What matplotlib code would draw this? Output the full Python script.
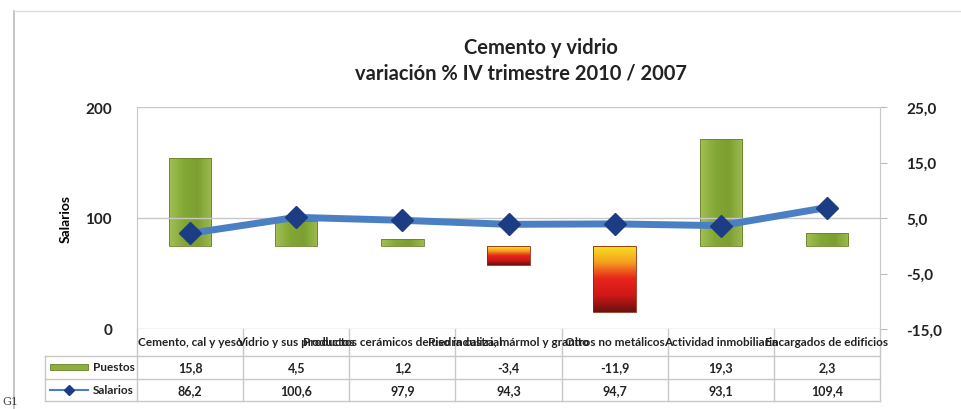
import matplotlib
matplotlib.use("Agg")
import matplotlib.pyplot as plt
import numpy as np
from matplotlib.lines import Line2D
from matplotlib.patches import Rectangle
from matplotlib.colors import LinearSegmentedColormap

categories = ["Cemento, cal y yeso", "Vidrio y sus productos",
              "Productos cerámicos de uso industrial",
              "Piedra caliza, mármol y granito", "Otros no metálicos",
              "Actividad inmobiliaria", "Encargados de edificios"]
puestos = [15.8, 4.5, 1.2, -3.4, -11.9, 19.3, 2.3]
salarios = [86.2, 100.6, 97.9, 94.3, 94.7, 93.1, 109.4]
right_ticks = [25, 15, 5, -5, -15]
left_ticks = [0, 100, 200]

W, H = 962, 410
fig = plt.figure(figsize=(W / 100, H / 100), dpi=100)
plt.rcParams['font.family'] = ['Lato', 'DejaVu Sans']

def fx(px):
    return px / W

def fy(py):
    return 1 - py / H

L, R, T, B = 137, 880, 108, 330
ax = fig.add_axes([fx(L), fy(B), fx(R) - fx(L), fy(T) - fy(B)])
ax2 = ax.twinx()

ax.set_xlim(-0.5, 6.5)
ax.set_ylim(-15, 25)
ax.set_xticks([])
for s in ['top', 'bottom', 'left']:
    ax.spines[s].set_visible(False)
ax.spines['right'].set_color('#c8c8c8')

x = np.arange(len(categories))
bw = 0.4
green_cmap = LinearSegmentedColormap.from_list('g', ['#a2c055', '#84a836', '#7c9f30', '#9cbb50'])
warm_cmap = LinearSegmentedColormap.from_list('w', ['#6e1010', '#d01818', '#e8241c', '#f5a020', '#f5e41e'])
bars = ax.bar(x, puestos, width=bw, color='none', edgecolor='none', zorder=2)
for b, v in zip(bars, puestos):
    x0, y0 = b.get_x(), b.get_y()
    w, h = b.get_width(), b.get_height()
    ylo, yhi = min(y0, y0 + h), max(y0, y0 + h)
    if v >= 0:
        grad = np.linspace(0, 1, 64).reshape(1, -1)
        im = ax.imshow(grad, cmap=green_cmap, extent=[x0, x0 + w, ylo, yhi],
                       aspect='auto', zorder=2, origin='lower')
    else:
        grad = np.linspace(0, 1, 64).reshape(-1, 1)
        im = ax.imshow(grad, cmap=warm_cmap, extent=[x0, x0 + w, ylo, yhi],
                       aspect='auto', zorder=2, origin='lower')
    im.set_clip_path(b)
    ax.add_patch(Rectangle((x0, ylo), w, yhi - ylo, fill=False,
                           edgecolor='#6b7f2a' if v >= 0 else '#8a2a10',
                           linewidth=0.6, zorder=3))
ax.set_ylim(-15, 25)
ax.set_xlim(-0.5, 6.5)
ax.yaxis.tick_right()
ax.set_yticks(right_ticks)
ax.set_yticklabels([f"{v:.1f}".replace(".", ",") for v in right_ticks],
                   fontsize=11, fontweight='bold', color='#222222')
ax.tick_params(axis='y', which='both', left=False, labelleft=False,
               right=True, labelright=True, direction='out', length=5,
               color='#bbbbbb', pad=14)

ax2.set_ylim(0, 200)
ax2.yaxis.tick_left()
ax2.yaxis.set_label_position('left')
ax2.set_yticks(left_ticks)
ax2.set_yticklabels([str(v) for v in left_ticks], fontsize=11,
                    fontweight='bold', color='#222222')
ax2.tick_params(axis='y', right=False, labelright=False, left=True,
                labelleft=True, direction='out', length=0, pad=18)
for s in ['top', 'bottom', 'right']:
    ax2.spines[s].set_visible(False)
ax2.spines['left'].set_color('#c8c8c8')
for v in left_ticks:
    ax2.axhline(v, color='#c8c8c8', linewidth=1, zorder=0)
ax2.plot(x, salarios, color='#4a7fc4', linewidth=5, marker='D',
         markersize=11, markerfacecolor='#1c3c84', markeredgecolor='#1c3c84',
         zorder=5)
ax2.set_ylabel('Salarios', fontsize=10, fontweight='bold', labelpad=10)
ax2.set_xlim(-0.5, 6.5)

fig.text(fx(541), fy(48), 'Cemento y vidrio', ha='center', va='center',
         fontsize=14.5, fontweight='bold', color='#222222')
fig.text(fx(521), fy(74), 'variación % IV trimestre 2010 / 2007', ha='center',
         va='center', fontsize=14.5, fontweight='bold', color='#222222')

colw = (R - L) / len(categories)
for i, c in enumerate(categories):
    fig.text(fx(L + colw * (i + 0.5)), fy(343), c, ha='center', va='center',
             fontsize=8.5, fontweight='bold', color='#222222')

gc = '#c8c8c8'
def hline(y, x0, x1):
    fig.add_artist(Line2D([fx(x0), fx(x1)], [fy(y), fy(y)], color=gc, linewidth=1))

def vline(xp, y0, y1):
    fig.add_artist(Line2D([fx(xp), fx(xp)], [fy(y0), fy(y1)], color=gc, linewidth=1))

TL, TT, TM, TB = 45, 357, 380, 402
hline(TT, TL, R)
hline(TM, TL, R)
hline(TB, TL, R)
vline(TL, TT, TB)
for i in range(len(categories) + 1):
    vline(L + colw * i, B, TB)

fig.add_artist(Rectangle((fx(50), fy(371)), fx(88) - fx(50), fy(365) - fy(371),
                         facecolor='#8cb03c', edgecolor='#6b7f2a', linewidth=0.6))
fig.text(fx(93), fy(368), 'Puestos', ha='left', va='center', fontsize=8.5,
         fontweight='bold', color='#222222')
fig.add_artist(Line2D([fx(50), fx(88)], [fy(391), fy(391)], color='#4a7fc4',
                      linewidth=1.5))
fig.add_artist(Line2D([fx(69)], [fy(391)], marker='D', markersize=5,
                      color='#1c3c84', linestyle='none'))
fig.text(fx(93), fy(391), 'Salarios', ha='left', va='center', fontsize=8.5,
         fontweight='bold', color='#222222')

def fmt(v):
    return f"{v:.1f}".replace(".", ",")

for i in range(len(categories)):
    cx = L + colw * (i + 0.5)
    fig.text(fx(cx), fy(368), fmt(puestos[i]), ha='center', va='center',
             fontsize=9, fontweight='bold', color='#222222')
    fig.text(fx(cx), fy(391), fmt(salarios[i]), ha='center', va='center',
             fontsize=9, fontweight='bold', color='#222222')

fig.add_artist(Line2D([fx(14), fx(14)], [0, fy(12)], color='#bbbbbb', linewidth=1.2))
fig.add_artist(Line2D([fx(14), 1], [fy(12), fy(12)], color='#dddddd', linewidth=1))
fig.text(fx(2), fy(402), 'G1', ha='left', va='center', fontsize=8,
         family='DejaVu Serif', color='#444444')

fig.savefig('out.png', dpi=100)
